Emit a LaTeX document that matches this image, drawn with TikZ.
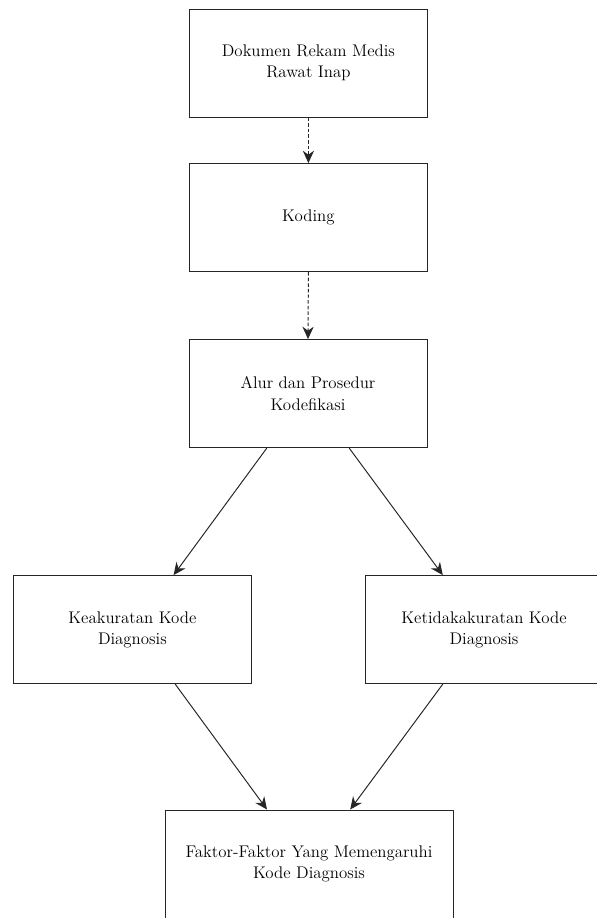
\documentclass[tikz,border=0pt]{standalone}
\usepackage{tikz}
\usetikzlibrary{shapes.geometric, positioning, arrows.meta, calc}
\tikzset{
  kotak/.style={rectangle, minimum width=5.95cm, minimum height=2.7cm, text centered, align=center, draw=black!85, line width=0.7pt, font=\rmfamily\fontsize{12}{15.2}\selectfont},
  kotaklebar/.style={kotak, minimum width=7.2cm},
  panah/.style={line width=0.7pt, draw=black!85, -{Stealth[length=3.1mm, width=2.8mm, inset=1mm]}},
  panahputus/.style={panah, dash pattern=on 2.5pt off 1.5pt}
}

\begin{document}
\begin{tikzpicture}
    % Batas gambar
    \useasboundingbox (0,0) rectangle (14.925,-22.95);

    % ==========================================
    % 1. Kotak-kotak alur
    % ==========================================
    \node[kotak] (dokumen) at (7.71, -1.575) {Dokumen Rekam Medis\\Rawat Inap};
    \node[kotak] (koding) at (7.71, -5.44) {Koding};
    \node[kotak] (alur) at (7.70, -9.84) {Alur dan Prosedur\\Kodefikasi};

    % Dua cabang hasil
    \node[kotak] (akurat) at (3.31, -15.74) {Keakuratan Kode\\Diagnosis};
    \node[kotak] (takakurat) at (12.1, -15.74) {Ketidakakuratan Kode\\Diagnosis};

    % Kotak terakhir (terpotong di bawah)
    \node[kotaklebar] (faktor) at (7.725, -21.6) {Faktor-Faktor Yang Memengaruhi\\Kode Diagnosis};

    % ==========================================
    % 2. Panah
    % ==========================================
    \draw[panahputus] (dokumen.south) -- (koding.north);
    \draw[panahputus] (koding.south) -- (alur.north);

    \draw[panah] ([xshift=-1.03cm]alur.south) -- ([xshift=1.03cm]akurat.north);
    \draw[panah] ([xshift=1.03cm]alur.south) -- ([xshift=-1.03cm]takakurat.north);

    \draw[panah] ([xshift=1.07cm]akurat.south) -- ([xshift=-1.05cm]faktor.north);
    \draw[panah] ([xshift=-1.03cm]takakurat.south) -- ([xshift=1.03cm]faktor.north);
\end{tikzpicture}
\end{document}
